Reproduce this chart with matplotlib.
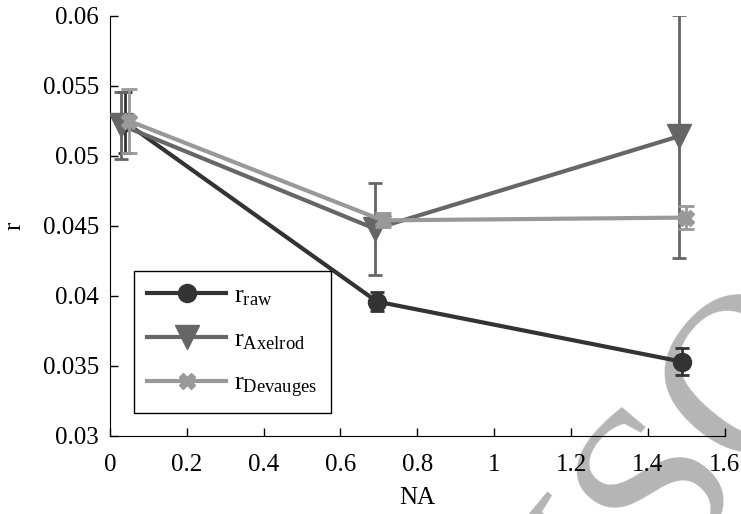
import matplotlib.pyplot as plt
from matplotlib.lines import Line2D

plt.rcParams['font.family'] = ['Liberation Serif', 'DejaVu Serif']
plt.rcParams['mathtext.fontset'] = 'custom'
plt.rcParams['mathtext.rm'] = 'Liberation Serif'
plt.rcParams['mathtext.it'] = 'Liberation Serif:italic'

x_raw = [0.04, 0.695, 1.49]
r_raw = [0.0524, 0.0396, 0.0353]
e_raw = [0.0022, 0.0007, 0.00095]

x_axel = [0.03, 0.69, 1.48]
r_axel = [0.0522, 0.0448, 0.0514]
e_axel = [0.0024, 0.0033, 0.0087]

x_dev = [0.05, 0.71, 1.50]
r_dev = [0.0525, 0.0454, 0.0456]
e_dev = [0.0023, 0.0005, 0.0008]

labels = [r'r$_{\mathrm{raw}}$', r'r$_{\mathrm{Axelrod}}$', r'r$_{\mathrm{Devauges}}$']
colors = ['#333333', '#666666', '#999999']
markers = ['o', 'v', 'X']
msizes = [13, 17, 11]

fig = plt.figure(figsize=(7.41, 5.14), dpi=100)
ax = fig.add_axes([0.1484, 0.1518, 0.8296, 0.8171])
ax.patch.set_alpha(0)

# watermark behind everything
fig.text(0.935, 0.11, 'ISO', fontsize=165, color='#b5b5b5', rotation=50,
         ha='center', va='center', zorder=-1, family='Liberation Serif')

series = [(x_raw, r_raw, e_raw, 5), (x_axel, r_axel, e_axel, 5), (x_dev, r_dev, e_dev, 6)]
for i, (xs, ys, es, cap) in enumerate(series):
    ax.errorbar(xs, ys, yerr=es, color=colors[i], lw=3, marker=markers[i],
                ms=msizes[i], capsize=cap, capthick=2, elinewidth=2, zorder=3 + i)

ax.set_xlim(0, 1.6)
ax.set_ylim(0.03, 0.06)
ax.set_xticks([0, 0.2, 0.4, 0.6, 0.8, 1.0, 1.2, 1.4, 1.6])
ax.set_xticklabels(['0', '0.2', '0.4', '0.6', '0.8', '1', '1.2', '1.4', '1.6'])
ax.set_yticks([0.03, 0.035, 0.04, 0.045, 0.05, 0.055, 0.06])
ax.set_yticklabels(['0.03', '0.035', '0.04', '0.045', '0.05', '0.055', '0.06'])
ax.tick_params(direction='in', labelsize=18, length=6, width=1)
ax.tick_params(axis='x', pad=13)
ax.tick_params(axis='y', pad=8)
ax.spines['top'].set_visible(False)
ax.spines['right'].set_visible(False)
ax.set_xlabel('NA', fontsize=18, labelpad=8)
ax.set_ylabel('r', fontsize=18, labelpad=12)

handles = [Line2D([], [], color=colors[i], lw=3, marker=markers[i], ms=msizes[i])
           for i in range(3)]
leg = ax.legend(handles, labels, loc='lower left', bbox_to_anchor=(0.039, 0.055),
                borderaxespad=0, fontsize=19, handlelength=3.0, fancybox=False,
                framealpha=1, edgecolor='black', borderpad=0.5, labelspacing=0.75,
                handletextpad=0.3)
leg.get_frame().set_linewidth(1)

fig.savefig('out.png', dpi=100)
